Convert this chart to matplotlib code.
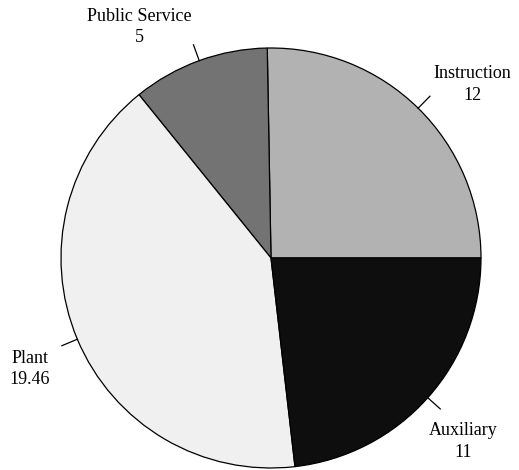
import numpy as np
import matplotlib.pyplot as plt

# data
categories = ['Instruction', 'Public Service', 'Plant', 'Auxiliary']
values = [12, 5, 19.46, 11]
value_labels = ['12', '5', '19.46', '11']
colors = ['#b2b2b2', '#737373', '#f0f0f0', '#0e0e0e']

# small per-label angle nudges (degrees) for the text placement
label_nudge = [-4.8, 9.7, 1.9, -1.9]

W, H = 519, 470
cx, cy, R = 271, H - 258, 210

plt.rcParams['font.family'] = ['Liberation Serif', 'DejaVu Serif']

fig = plt.figure(figsize=(W / 100, H / 100), dpi=100)
ax = fig.add_axes([0, 0, 1, 1])

wedges, _ = ax.pie(values, colors=colors, startangle=0, counterclock=True,
                   center=(cx, cy), radius=R, frame=True,
                   wedgeprops=dict(edgecolor='black', linewidth=0.9))
ax.set_xlim(0, W)
ax.set_ylim(0, H)
ax.axis('off')

for w, name, val, nudge in zip(wedges, categories, value_labels, label_nudge):
    mid = np.deg2rad((w.theta1 + w.theta2) / 2)
    x0, y0 = cx + R * np.cos(mid), cy + R * np.sin(mid)
    x1, y1 = cx + 1.08 * R * np.cos(mid), cy + 1.08 * R * np.sin(mid)
    ax.plot([x0, x1], [y0, y1], color='black', linewidth=0.9)
    t = mid + np.deg2rad(nudge)
    tx, ty = cx + 1.265 * R * np.cos(t), cy + 1.265 * R * np.sin(t)
    ax.text(tx, ty, f'{name}\n{val}', ha='center', va='center',
            multialignment='center', fontsize=13, linespacing=1.35)

fig.savefig('out.png', dpi=100)
